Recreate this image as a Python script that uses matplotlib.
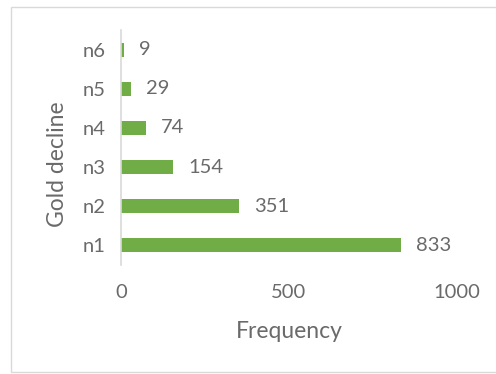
import matplotlib
matplotlib.use("Agg")
import matplotlib.pyplot as plt
from matplotlib.patches import Rectangle

categories = ["n1", "n2", "n3", "n4", "n5", "n6"]
values = [833, 351, 154, 74, 29, 9]
xticks = [0, 500, 1000]

plt.rcParams['font.family'] = ['Lato', 'DejaVu Sans']
grey = "#6a6a6a"
green = "#70AD47"

fig = plt.figure(figsize=(4.96, 3.74), dpi=100)
fig.patch.set_facecolor("white")
fig.patches.append(Rectangle((11/496, 2/374), 490/496, 365/374, transform=fig.transFigure,
                             fill=False, edgecolor="#d9d9d9", linewidth=1))
ax = fig.add_axes([121/496, 1 - 265/374, 336/496, 235/374])
y = list(range(len(categories)))
ax.barh(y, values, height=0.36, color=green)
for yi, v in zip(y, values):
    ax.annotate(str(v), (v, yi), xytext=(11, 0), textcoords="offset points",
                va="center", ha="left", color=grey, fontsize=14.5)
ax.set_xlim(0, 1000)
ax.set_ylim(-0.5, 5.5)
ax.set_yticks(y)
ax.set_yticklabels(categories)
ax.set_xticks(xticks)
ax.set_xticklabels([str(t) for t in xticks])
ax.tick_params(axis="both", length=0, colors=grey, labelsize=14.5)
ax.tick_params(axis="x", pad=14)
ax.tick_params(axis="y", pad=11)
for s in ["top", "right", "bottom"]:
    ax.spines[s].set_visible(False)
ax.spines["left"].set_color("#d9d9d9")
ax.spines["left"].set_linewidth(1.2)
ax.set_xlabel("Frequency", color=grey, fontsize=16.5, labelpad=14)
ax.set_ylabel("Gold decline", color=grey, fontsize=16.5)
ax.yaxis.set_label_coords(-0.158, 0.43)
fig.savefig("out.png", dpi=100)
